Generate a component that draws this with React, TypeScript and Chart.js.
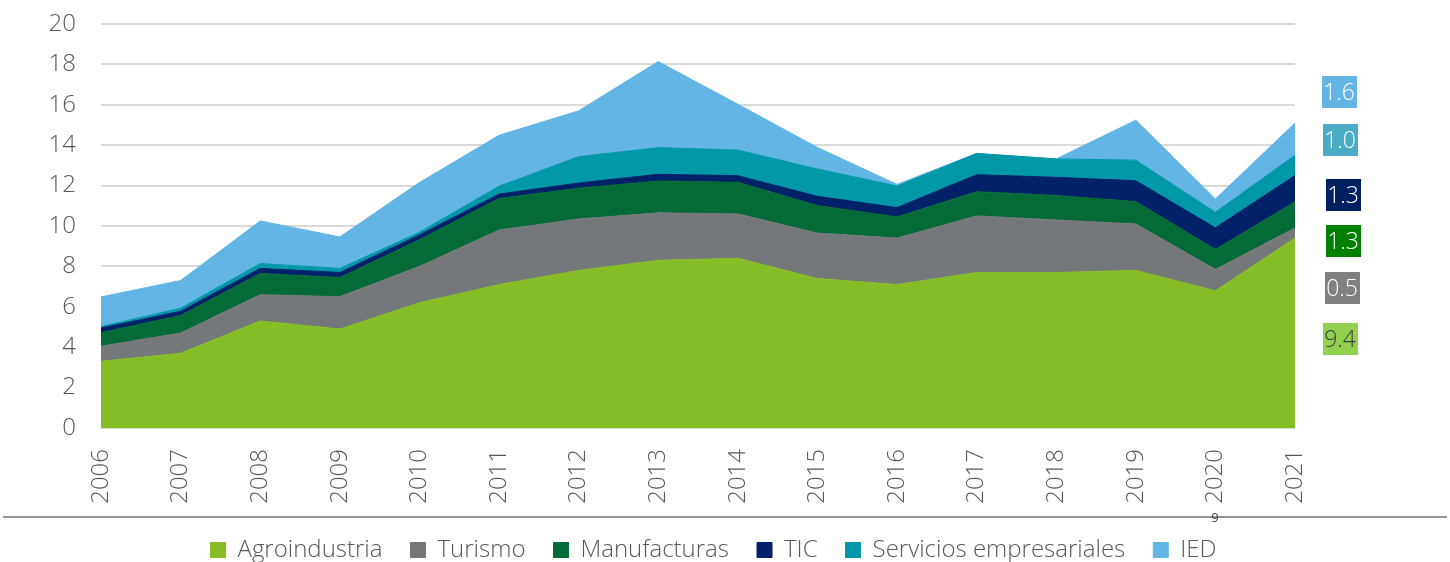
import React, { useEffect, useRef } from "react";
import { Chart, registerables } from "chart.js";

Chart.register(...registerables);

const years = ["2006", "2007", "2008", "2009", "2010", "2011", "2012", "2013", "2014", "2015", "2016", "2017", "2018", "2019", "2020", "2021"];

const agroindustria = [3.3, 3.7, 5.3, 4.9, 6.2, 7.1, 7.8, 8.3, 8.4, 7.4, 7.1, 7.7, 7.7, 7.8, 6.8, 9.4];
const turismo = [0.75, 1.0, 1.3, 1.6, 1.8, 2.7, 2.55, 2.35, 2.2, 2.25, 2.3, 2.8, 2.6, 2.3, 1.05, 0.5];
const manufacturas = [0.67, 0.87, 1.05, 0.95, 1.32, 1.56, 1.52, 1.58, 1.56, 1.36, 1.05, 1.2, 1.21, 1.11, 0.99, 1.3];
const tic = [0.23, 0.21, 0.25, 0.25, 0.24, 0.22, 0.26, 0.33, 0.33, 0.46, 0.46, 0.84, 0.9, 1.03, 1.07, 1.3];
const servicios = [0.07, 0.15, 0.24, 0.2, 0.13, 0.39, 1.3, 1.32, 1.27, 1.35, 1.07, 1.05, 0.91, 1.02, 0.77, 1.0];
const ied = [1.47, 1.37, 2.11, 1.56, 2.46, 2.52, 2.27, 4.26, 2.27, 1.07, 0.08, 0, 0, 1.98, 0.66, 1.6];

const seriesNames = ["Agroindustria", "Turismo", "Manufacturas", "TIC", "Servicios empresariales", "IED"];
const seriesData = [agroindustria, turismo, manufacturas, tic, servicios, ied];
const seriesColors = ["#86bc25", "#75787b", "#046a38", "#012169", "#0097a9", "#62b5e5"];

const endBoxColors = ["#92d050", "#808080", "#008000", "#002060", "#4bacc6", "#62b5e5"];
const endTextColors = ["#404040", "#ffffff", "#ffffff", "#ffffff", "#ffffff", "#ffffff"];
const pageNumber = "9";

const FONT = "'Open Sans', 'Noto Sans', sans-serif";
const TEXT = "#595959";

const endLabelsPlugin = {
  id: "endLabels",
  afterDatasetsDraw(chart: any) {
    const { ctx, chartArea } = chart;
    const offY = [339, 288, 241, 195, 140, 92];
    const offX = [45, 47, 48, 48, 45, 44];
    ctx.save();
    ctx.font = `300 23px ${FONT}`;
    ctx.textAlign = "center";
    ctx.textBaseline = "middle";
    chart.data.datasets.forEach((ds: any, i: number) => {
      const v = ds.data[ds.data.length - 1];
      const text = Number(v).toFixed(1);
      const cx = chartArea.right + offX[i];
      const cy = offY[i];
      const w = ctx.measureText(text).width + 3;
      const h = 32;
      ctx.fillStyle = endBoxColors[i];
      ctx.fillRect(Math.round(cx - w / 2), Math.round(cy - h / 2), Math.round(w), h);
      ctx.fillStyle = endTextColors[i];
      ctx.fillText(text, cx, cy + 1);
    });
    ctx.restore();
  },
};

const pagePlugin = {
  id: "pageDecor",
  afterDraw(chart: any) {
    const { ctx } = chart;
    ctx.save();
    ctx.strokeStyle = "#707070";
    ctx.lineWidth = 1.5;
    ctx.beginPath();
    ctx.moveTo(3, 517);
    ctx.lineTo(1447, 517);
    ctx.stroke();
    ctx.fillStyle = "#404040";
    ctx.font = `13px ${FONT}`;
    ctx.textAlign = "center";
    ctx.textBaseline = "middle";
    ctx.fillText(pageNumber, 1215, 518);
    ctx.restore();
  },
};

export default function App() {
  const canvasRef = useRef<HTMLCanvasElement | null>(null);

  useEffect(() => {
    if (!canvasRef.current) return;
    const tickFont = { family: FONT, size: 24, weight: "300" as any };
    const chart = new Chart(canvasRef.current, {
      type: "line",
      data: {
        labels: years,
        datasets: seriesNames.map((name, i) => ({
          label: name,
          data: seriesData[i],
          backgroundColor: seriesColors[i],
          borderColor: seriesColors[i],
          borderWidth: 1,
          fill: i === 0 ? "origin" : "-1",
          pointRadius: 0,
          pointHoverRadius: 0,
          tension: 0,
        })),
      },
      options: {
        responsive: false,
        animation: false,
        events: [],
        layout: { padding: { top: 24, left: 0, right: 23, bottom: -10 } },
        plugins: {
          legend: {
            position: "bottom",
            labels: {
              boxWidth: 15,
              boxHeight: 15,
              padding: 28,
              color: TEXT,
              font: tickFont,
            },
          },
          tooltip: { enabled: false },
        },
        scales: {
          x: {
            grid: { display: false },
            border: { display: false },
            ticks: {
              minRotation: 90,
              maxRotation: 90,
              padding: 13,
              color: TEXT,
              font: tickFont,
              autoSkip: false,
            },
            afterFit: (s: any) => {
              s.height = 82;
            },
          },
          y: {
            stacked: true,
            min: 0,
            max: 20,
            ticks: { stepSize: 2, padding: 0, color: TEXT, font: tickFont },
            grid: { color: "#d9d9d9", lineWidth: 2, drawTicks: true, tickLength: 25, tickColor: "rgba(0,0,0,0)" },
            border: { display: false },
            afterFit: (s: any) => {
              s.width = 101;
            },
          },
          y2: {
            position: "right",
            grid: { display: false },
            ticks: { display: false },
            border: { display: false },
            afterFit: (s: any) => {
              s.width = 132;
            },
          },
        },
      },
      plugins: [endLabelsPlugin, pagePlugin],
    });
    return () => chart.destroy();
  }, []);

  return (
    <div style={{ position: "absolute", left: 0, top: 0, width: 1450, height: 562, overflow: "hidden", background: "#ffffff" }}>
      <canvas ref={canvasRef} width={1450} height={562} style={{ display: "block" }} />
    </div>
  );
}
